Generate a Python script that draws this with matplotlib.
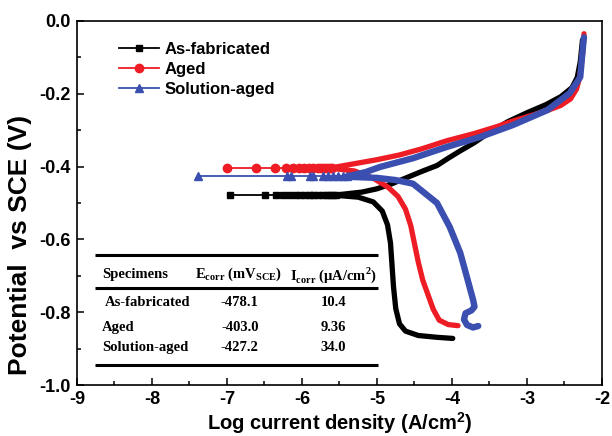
# coding=utf-8
import numpy as np
import matplotlib
matplotlib.use('Agg')
import matplotlib.pyplot as plt
from matplotlib.ticker import MultipleLocator

# polarization data, log|i| (A/cm2) vs E (V vs SCE)
labels = ['As-fabricated', 'Aged', 'Solution-aged']
colors = ['#000000', '#ee1c24', '#3a4fb0']
markers = ['s', 'o', '^']
ecorr = [-0.478, -0.403, -0.427]

# cathodic branches, from the low potential end up to Ecorr
cath_logi = [
    [-3.99, -4.2, -4.45, -4.62, -4.70, -4.75, -4.78, -4.80, -4.82, -4.86, -4.93, -5.05, -5.25, -5.55],
    [-3.92, -4.05, -4.17, -4.25, -4.32, -4.39, -4.45, -4.50, -4.55, -4.62, -4.72, -4.85, -5.05, -5.3, -5.6],
    [-3.65, -3.72, -3.80, -3.84, -3.82, -3.74, -3.70, -3.72, -3.76, -3.79, -3.89, -4.03, -4.20, -4.52, -4.75, -5.0, -5.4],
]
cath_e = [
    [-0.872, -0.869, -0.864, -0.852, -0.832, -0.79, -0.73, -0.67, -0.61, -0.56, -0.522, -0.497, -0.484, -0.479],
    [-0.837, -0.834, -0.822, -0.792, -0.752, -0.712, -0.662, -0.612, -0.562, -0.517, -0.482, -0.457, -0.432, -0.412, -0.405],
    [-0.838, -0.842, -0.835, -0.820, -0.803, -0.795, -0.785, -0.765, -0.735, -0.712, -0.637, -0.566, -0.500, -0.447, -0.437, -0.431, -0.428],
]

# anodic branches, from Ecorr up to the high potential end
anod_logi = [
    [-5.55, -5.2, -5.0, -4.8, -4.6, -4.4, -4.2, -4.05, -3.9, -3.7, -3.5, -3.25, -3.0, -2.75, -2.55, -2.40, -2.33, -2.29, -2.27, -2.26],
    [-5.6, -5.3, -5.0, -4.7, -4.4, -4.07, -3.7, -3.4, -3.19, -2.95, -2.73, -2.55, -2.42, -2.34, -2.30, -2.27, -2.25, -2.24],
    [-5.4, -5.15, -4.96, -4.52, -4.07, -3.63, -3.19, -2.73, -2.43, -2.29, -2.27, -2.245, -2.24],
]
anod_e = [
    [-0.478, -0.470, -0.461, -0.447, -0.430, -0.413, -0.397, -0.377, -0.358, -0.334, -0.306, -0.276, -0.252, -0.230, -0.208, -0.183, -0.155, -0.112, -0.072, -0.052],
    [-0.403, -0.392, -0.381, -0.368, -0.351, -0.329, -0.309, -0.290, -0.275, -0.260, -0.246, -0.232, -0.214, -0.187, -0.157, -0.112, -0.072, -0.035],
    [-0.427, -0.415, -0.401, -0.377, -0.346, -0.319, -0.286, -0.245, -0.198, -0.154, -0.107, -0.052, -0.045],
]

# sparse points around Ecorr where |i| goes through zero
spike_logi = [
    [-6.96, -6.49, -6.35, -6.25, -6.17, -6.09, -6.03, -5.96, -5.89, -5.85, -5.78, -5.72, -5.67, -5.62, -5.58, -5.55],
    [-7.0, -6.61, -6.36, -6.21, -6.12, -6.04, -5.97, -5.90, -5.85, -5.79, -5.74, -5.70, -5.66, -5.62, -5.60],
    [-7.38, -6.20, -6.14, -5.89, -5.85, -5.72, -5.65, -5.58, -5.52, -5.45, -5.40],
]

# inset table
table_cols = ['Specimens', 'E$_{\\mathrm{corr}}$ (mV$_{\\mathrm{SCE}}$)', 'I$_{\\mathrm{corr}}$ (\u03bcA/cm$^{\\mathrm{2}}$)']
table_ecorr = ['-478.1', '-403.0', '-427.2']
table_icorr = ['10.4', '9.36', '34.0']

plt.rcParams['font.family'] = ['Liberation Sans', 'DejaVu Sans']
plt.rcParams['font.weight'] = 'bold'
plt.rcParams['mathtext.fontset'] = 'custom'
plt.rcParams['mathtext.rm'] = 'Liberation Serif:bold'
plt.rcParams['mathtext.bf'] = 'Liberation Serif:bold'

fig = plt.figure(figsize=(6.12, 4.36), dpi=100)
ax = fig.add_axes([77/612, 1-385/436, 525/612, 364/436])

widths = [3.8, 3.8, 4.6]
msizes = [4.5, 6, 6]
for k in range(3):
    x = cath_logi[k] + anod_logi[k]
    y = cath_e[k] + anod_e[k]
    ax.plot(x, y, color=colors[k], lw=widths[k], solid_capstyle='round',
            solid_joinstyle='round', zorder=2+k)
    ax.plot(spike_logi[k], [ecorr[k]]*len(spike_logi[k]), color=colors[k],
            lw=1.3, marker=markers[k], ms=msizes[k], label=labels[k], zorder=2+k)

ax.set_xlim(-9, -2)
ax.set_ylim(-1.0, 0.0)
ax.xaxis.set_major_locator(MultipleLocator(1))
ax.xaxis.set_minor_locator(MultipleLocator(0.5))
ax.yaxis.set_major_locator(MultipleLocator(0.2))
ax.yaxis.set_minor_locator(MultipleLocator(0.1))
ax.tick_params(which='both', direction='in', width=1.1, labelsize=13, pad=4.5)
ax.tick_params(which='major', length=5)
ax.tick_params(which='minor', length=3)
ax.set_xticklabels([f'{v:g}' for v in ax.get_xticks()])
ax.set_yticklabels([f'{v:.1f}' for v in ax.get_yticks()])
for s in ax.spines.values():
    s.set_linewidth(1.2)

ax.set_xlabel('Log current density (A/cm$^{\\mathregular{2}}$)', fontsize=14.5, fontweight='bold', labelpad=1)
ax.set_ylabel('Potential  vs SCE (V)', fontsize=19, fontweight='bold')
ax.yaxis.set_label_coords(-0.086, 0.385)

leg = ax.legend(loc='upper left', bbox_to_anchor=(0.068, 0.96), frameon=False,
                fontsize=12, handlelength=2.4, handletextpad=0.3,
                labelspacing=0.3, numpoints=1, borderaxespad=0)

# table drawn in axes fraction coordinates
tf = ax.transAxes
tfont = dict(family='Liberation Serif', fontweight='bold', fontsize=10.5, transform=tf, va='center')
for yy in [0.357, 0.266, 0.055]:
    ax.plot([0.034, 0.573], [yy, yy], color='black', lw=2.2, transform=tf,
            solid_capstyle='butt', zorder=6)
ax.text(0.048, 0.303, table_cols[0], ha='left', **tfont)
ax.text(0.307, 0.303, table_cols[1], ha='center', **tfont)
ax.text(0.488, 0.303, table_cols[2], ha='center', **tfont)
row_y = [0.228, 0.159, 0.102]
row_x = [0.053, 0.048, 0.048]
for k in range(3):
    ax.text(row_x[k], row_y[k], labels[k], ha='left', **tfont)
    ax.text(0.31, row_y[k], table_ecorr[k], ha='center', **tfont)
    ax.text(0.488, row_y[k], table_icorr[k], ha='center', **tfont)

fig.savefig('out.png', dpi=100)
